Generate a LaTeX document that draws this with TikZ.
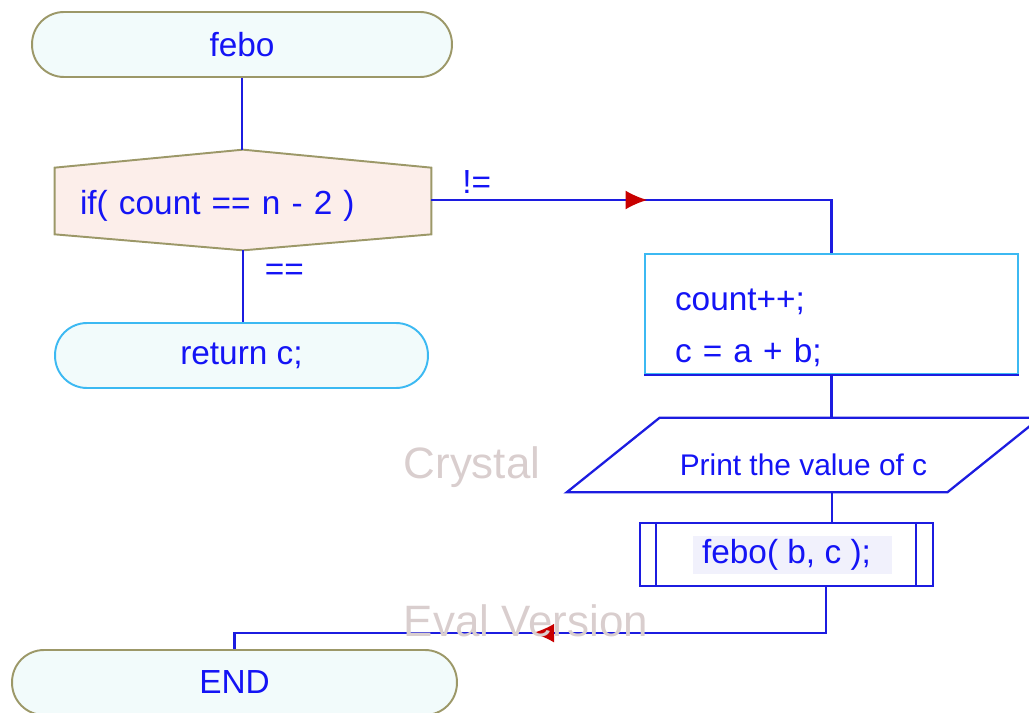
\documentclass[tikz,border=0pt]{standalone}
\usepackage{fontspec}
\setmainfont{Liberation Sans}
\usetikzlibrary{arrows.meta,calc,backgrounds,decorations.markings}

\definecolor{flowblue}{HTML}{1C1CE0}
\definecolor{txtblue}{HTML}{1414F5}
\definecolor{edgeolive}{HTML}{9C9868}
\definecolor{edgecyan}{HTML}{3CB9F2}
\definecolor{termfill}{HTML}{F2FBFB}
\definecolor{condfill}{HTML}{FCEEEA}
\definecolor{tipred}{HTML}{C80000}
\definecolor{wmgray}{HTML}{D9CECE}
\definecolor{hilite}{HTML}{F1F1FC}

\begin{document}
\begin{tikzpicture}[x=0.02cm,y=-0.02cm]

		\tikzset{
			txt/.style={
				text=txtblue,
				font=\fontsize{19}{23}\selectfont
			},
			term/.style={
				txt,
				draw=edgeolive,
				fill=termfill,
				line width=1.1pt,
				rounded corners=0.64cm,
				minimum height=1.3cm
			},
			condbox/.style={
				txt,
				text width=6.52cm,
				inner xsep=0.5cm,
				align=left,
				minimum height=2cm
			},
			procbox/.style={
				txt,
				font=\fontsize{19}{29.5}\selectfont,
				draw=edgecyan,
				line width=1.1pt,
				text width=6.26cm,
				inner xsep=0.6cm,
				align=left,
				minimum height=2.4cm
			},
			iobox/.style={
				txt,
				font=\fontsize{17}{20}\selectfont,
				minimum width=9.46cm,
				minimum height=1.48cm
			},
			callbox/.style={
				txt,
				draw=flowblue,
				line width=1.3pt,
				minimum width=5.86cm,
				minimum height=1.26cm
			},
			flow/.style={
				draw=flowblue,
				line width=1.3pt
			},
			lbl/.style={
				txt
			},
			wmark/.style={
				text=wmgray,
				font=\fontsize{25}{30}\selectfont
			},
			midtip/.style={
				postaction={decorate,
					decoration={markings,
						mark=at position #1 with {\arrow{Latex[length=0.44cm,width=0.38cm,color=tipred]}}}}
			}
		}

		\useasboundingbox (0,0) rectangle (1029,713);

		\node[term,minimum width=8.4cm] (febo) at (242,44.5) {febo};

		\node[condbox] (cond) at (243,200) {\rule{0pt}{21pt}if( count == n - 2 )};

		\node[term,draw=edgecyan,minimum width=7.46cm] (ret) at (241.5,355.5) {return c;};

		\node[procbox] (proc) at (831.5,314) {\rule{0pt}{28.5pt}count++;\\c = a + b;};

		\node[iobox] (prnt) at (803.5,455) {\rule{0pt}{23pt}Print the value of c};

		\node[callbox] (call) at (786.5,554.5) {febo( b, c );};

		\node[term,minimum width=8.9cm] (fin) at (234.5,682.5) {END};

		\begin{scope}[on background layer]
			\filldraw[draw=edgeolive,fill=condfill,line width=1.1pt]
			($(cond.north west)+(0,18)$) -- (cond.north) -- ($(cond.north east)+(0,18)$)
			-- ($(cond.south east)+(0,-16)$) -- (cond.south) -- ($(cond.south west)+(0,-16)$) -- cycle;
			\filldraw[flow,fill=white]
			(prnt.south west) -- ($(prnt.north west)+(93,0)$) -- (prnt.north east)
			-- ($(prnt.south east)+(-93,0)$) -- cycle;
			\fill[hilite] ($(call.center)+(-93.5,-19)$) rectangle ++(199,38);
		\end{scope}

		\draw[flow] ([xshift=0.34cm]call.north west) -- ([xshift=0.34cm]call.south west);
		\draw[flow] ([xshift=-0.36cm]call.north east) -- ([xshift=-0.36cm]call.south east);
		\draw[flow] (proc.south west) -- (proc.south east);

		\coordinate (pin) at ([xshift=0.91cm]call.north);
		\coordinate (pout) at ([xshift=0.79cm]call.south);

		\draw[flow] (febo.south) -- (febo.south |- cond.north);
		\draw[flow] (cond.south) -- node[lbl,pos=0.3,right=0.3cm] {==} (cond.south |- ret.north);
		\draw[flow,midtip=0.477] (cond.east) -| node[lbl,pos=0.03,anchor=south west] {!=} (proc.north);
		\draw[flow] (proc.south) -- (proc.south |- prnt.north);
		\draw[flow] (pin |- prnt.south) -- (pin);
		\draw[flow,midtip=0.52] (pout) -- ++(0,46) -| (fin.north);

		\node[wmark] (wm1) at (472,467) {Crystal};
		\node[wmark] (wm2) at (526,621) {Eval Version};

	\end{tikzpicture}
\end{document}
